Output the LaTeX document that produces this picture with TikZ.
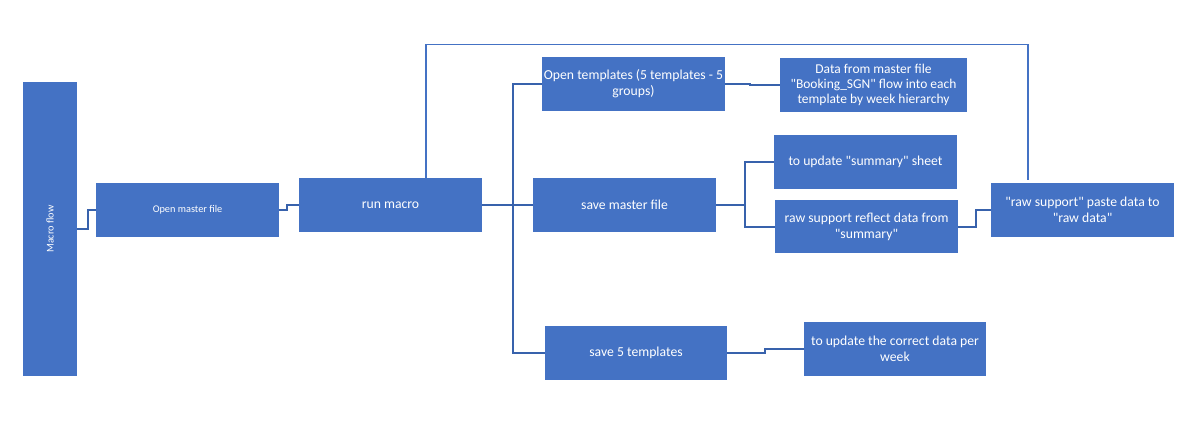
\documentclass[tikz,border=0pt]{standalone}
\usepackage{fontspec}
\setmainfont{Carlito}[Ligatures=TeXOff]
\definecolor{boxblue}{HTML}{4472C4}
\definecolor{linkblue}{HTML}{3862AC}
\tikzset{
  box/.style={fill=boxblue, draw=none, text=white, align=center, inner sep=0pt,
    font=\fontsize{13.7}{16}\selectfont},
  smallbox/.style={box, font=\fontsize{10.3}{12}\selectfont},
  conn/.style={draw=linkblue, line width=2pt},
  thinconn/.style={draw=boxblue, line width=1.2pt},
}
\begin{document}
\begin{tikzpicture}[x=1pt,y=-1pt]
\useasboundingbox (0,0) rectangle (1192,429);
% boxes (positions in px, y downward)
\node[smallbox, minimum width=54pt, minimum height=294pt] (macro) at (50,229) {};
\node[smallbox, rotate=90] (macrolbl) at (macro.center) {Macro flow};
\node[smallbox, minimum width=183pt, minimum height=54pt] (open) at (187.5,210) {Open master file};
\node[box, minimum width=183pt, minimum height=54pt] (run) at (390.5,205) {run macro};
\node[box, minimum width=183pt, minimum height=54pt] (opt) at (633.5,84) {Open templates (5 templates - 5\\groups)};
\node[box, minimum width=187pt, minimum height=54pt, font=\fontsize{13.5}{15}\selectfont] (data) at (873.5,85) {Data from master file\\"Booking\_SGN" flow into each\\template by week hierarchy};
\node[box, minimum width=183pt, minimum height=54pt] (save) at (624.5,205) {save master file};
\node[box, minimum width=183pt, minimum height=54pt] (sum) at (865.5,162) {to update "summary" sheet};
\node[box, minimum width=183pt, minimum height=53pt] (raw) at (866.5,226.5) {raw support reflect data from\\"summary"};
\node[box, minimum width=183pt, minimum height=54pt] (paste) at (1082.5,210) {"raw support" paste data to\\"raw data"};
\node[box, minimum width=182pt, minimum height=54pt] (s5) at (636,353) {save 5 templates};
\node[box, minimum width=182pt, minimum height=54pt] (correct) at (895,349) {to update the correct data per\\week};
% connectors
\draw[conn] (macro.east) -- ++(11,0) |- (open.west);
\draw[conn] (open.east) -- ++(8,0) |- (run.west);
\draw[conn] (run.east) -- (save.west);
\draw[conn] (opt.west) -- ++(-29,0) |- (s5.west);
\draw[conn] (opt.east) -- ++(25,0) |- (data.west);
\draw[conn] (save.east) -- ++(29,0);
\draw[conn] (sum.west) -- ++(-29,0) |- (raw.west);
\draw[conn] (raw.east) -- ++(18,0) |- (paste.west);
\draw[conn] (s5.east) -- ++(38,0) |- (correct.west);
\draw[thinconn] ([xshift=35.5pt]run.north) -- ++(0,-133) -| ([xshift=-54.5pt,yshift=3pt]paste.north);
\end{tikzpicture}
\end{document}
